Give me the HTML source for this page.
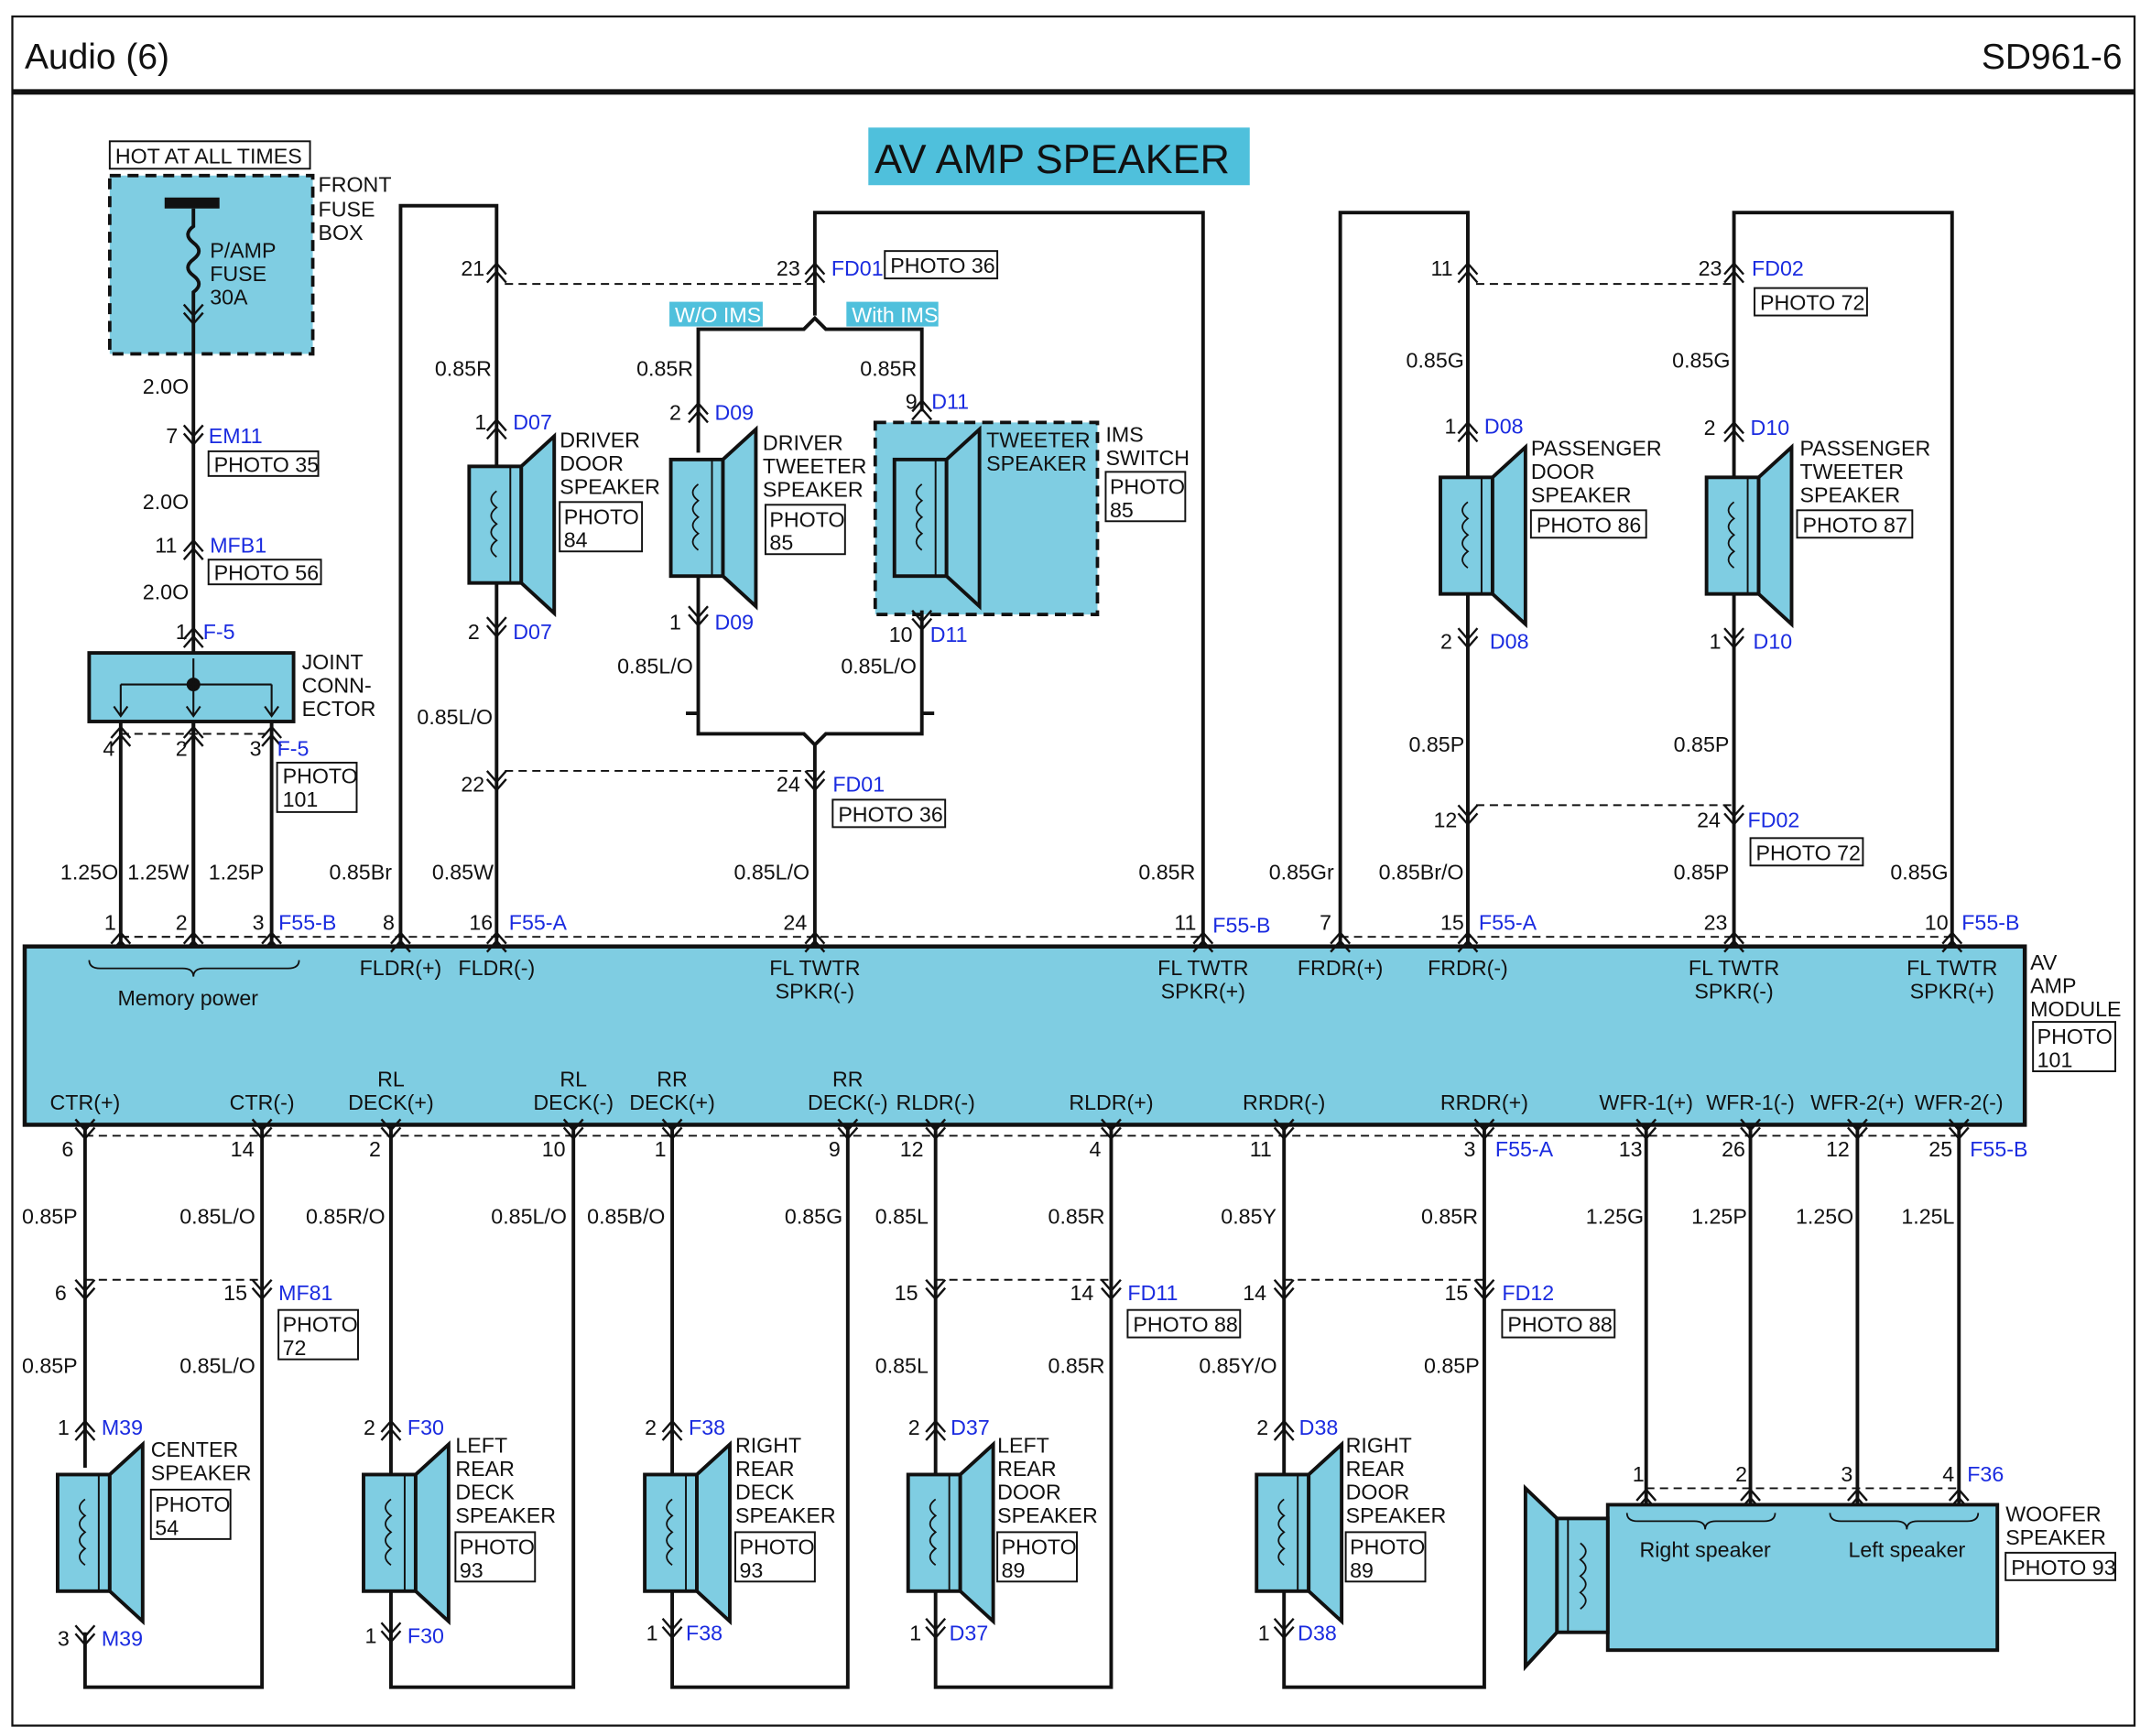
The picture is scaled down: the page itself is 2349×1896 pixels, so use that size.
<!DOCTYPE html>
<html><head><meta charset="utf-8"><style>
html,body{margin:0;padding:0;background:#fff}
svg{display:block}
text{font-family:"Liberation Sans",sans-serif;font-size:15.5px;fill:#111}
.b{fill:#1a2be0}
.m{text-anchor:middle}
.w{stroke:#111;stroke-width:2.6;fill:none}
.d{stroke:#111;stroke-width:1.3;fill:none;stroke-dasharray:6 4}
.bx{fill:#fff;stroke:#111;stroke-width:1.3}
</style></head><body>
<svg width="2349" height="1896" viewBox="0 0 1568 1265.6" preserveAspectRatio="none">
<defs>
<g id="cu"><path d="M-7,4 L0,-4 L7,4 M-7,10 L0,2 L7,10" stroke="#111" stroke-width="1.6" fill="none"/></g>
<g id="cd"><path d="M-7,-4 L0,4 L7,-4 M-7,-10 L0,-2 L7,-10" stroke="#111" stroke-width="1.6" fill="none"/></g>
<g id="spk">
<rect x="0" y="0" width="38" height="85" fill="#7fcde2" stroke="#111" stroke-width="2.6"/>
<line x1="30" y1="0" x2="30" y2="85" stroke="#111" stroke-width="1.3"/>
<path d="M20,18 q-8,6 0,12 q-8,6 0,12 q-8,6 0,12 q-8,6 0,12" stroke="#111" stroke-width="1.2" fill="none"/>
<polygon points="38,0 62,-22 62,107 38,85" fill="#7fcde2" stroke="#111" stroke-width="2.6"/>
</g>
</defs>
<rect x="9" y="12" width="1547" height="1246" fill="none" stroke="#111" stroke-width="1.5"/>
<line x1="9" y1="67" x2="1556" y2="67" stroke="#111" stroke-width="4"/>
<text x="18" y="50" style="font-size:26px">Audio (6)</text>
<text x="1547" y="50" style="font-size:26px;text-anchor:end">SD961-6</text>
<rect x="633" y="93" width="278" height="42" fill="#4fc0dc"/>
<text x="767" y="126" class="m" style="font-size:30px">AV AMP SPEAKER</text>

<!-- fuse -->
<rect x="80" y="103" width="146" height="20" class="bx"/><text x="84" y="119">HOT AT ALL TIMES</text>
<rect x="80" y="128" width="148" height="130" fill="#7fcde2" stroke="#111" stroke-width="2.5" stroke-dasharray="8 5"/>
<rect x="120" y="144" width="40" height="8" fill="#111"/>
<path d="M141,152 V165 q-8,6 0,12 q8,6 0,12 q-8,6 0,12 q8,6 0,12 V690" class="w"/>
<text x="153" y="188">P/AMP</text><text x="153" y="205">FUSE</text><text x="153" y="222">30A</text>
<text x="232" y="140">FRONT</text><text x="232" y="158">FUSE</text><text x="232" y="175">BOX</text>
<use href="#cd" x="141" y="232"/>
<text x="104" y="287">2.0O</text>
<use href="#cd" x="141" y="320"/><text x="121" y="323">7</text><text x="152" y="323" class="b">EM11</text>
<rect x="152" y="329" width="80" height="18" class="bx"/><text x="156" y="344">PHOTO 35</text>
<text x="104" y="371">2.0O</text>
<use href="#cu" x="141" y="398"/><text x="113" y="403">11</text><text x="153" y="403" class="b">MFB1</text>
<rect x="152" y="408" width="82" height="18" class="bx"/><text x="156" y="423">PHOTO 56</text>
<text x="104" y="437">2.0O</text>
<use href="#cu" x="141" y="462"/><text x="128" y="466">1</text><text x="148" y="466" class="b">F-5</text>
<rect x="65" y="476" width="149" height="50" fill="#7fcde2" stroke="#111" stroke-width="2.6"/>
<circle cx="141" cy="499" r="5" fill="#111"/>
<path d="M88,499 H198 M88,499 V522 M198,499 V522 M141,480 V522 M83,515 L88,522 L93,515 M136,515 L141,522 L146,515 M193,515 L198,522 L203,515" stroke="#111" stroke-width="1.4" fill="none"/>
<text x="220" y="488">JOINT</text><text x="220" y="505">CONN-</text><text x="220" y="522">ECTOR</text>
<path d="M88,526 V690 M141,526 V690 M198,526 V690" class="w"/>
<use href="#cu" x="88" y="534"/><use href="#cu" x="141" y="534"/><use href="#cu" x="198" y="534"/>
<line x1="88" y1="535" x2="198" y2="535" class="d"/>
<text x="75" y="551">4</text><text x="128" y="551">2</text><text x="182" y="551">3</text><text x="202" y="551" class="b">F-5</text>
<rect x="202" y="556" width="58" height="36" class="bx"/><text x="206" y="571">PHOTO</text><text x="206" y="588">101</text>
<text x="44" y="641">1.25O</text><text x="93" y="641">1.25W</text><text x="152" y="641">1.25P</text>
<use href="#cu" x="88" y="684"/><use href="#cu" x="141" y="684"/><use href="#cu" x="198" y="684"/>
<line x1="88" y1="683" x2="198" y2="683" class="d"/>
<text x="76" y="678">1</text><text x="128" y="678">2</text><text x="184" y="678">3</text><text x="203" y="678" class="b">F55-B</text>

<!-- module -->
<rect x="18" y="690" width="1458" height="130" fill="#7fcde2" stroke="#111" stroke-width="3"/>
<path d="M65,700 q0,6 8,6 H133 q8,0 8,6 q0,-6 8,-6 H210 q8,0 8,-6" stroke="#111" stroke-width="1.2" fill="none"/>
<text x="137" y="733" class="m">Memory power</text>
<g class="m">
<text x="292" y="711" class="m">FLDR(+)</text><text x="362" y="711" class="m">FLDR(-)</text>
<text x="594" y="711" class="m">FL TWTR</text><text x="594" y="728" class="m">SPKR(-)</text>
<text x="877" y="711" class="m">FL TWTR</text><text x="877" y="728" class="m">SPKR(+)</text>
<text x="977" y="711" class="m">FRDR(+)</text><text x="1070" y="711" class="m">FRDR(-)</text>
<text x="1264" y="711" class="m">FL TWTR</text><text x="1264" y="728" class="m">SPKR(-)</text>
<text x="1423" y="711" class="m">FL TWTR</text><text x="1423" y="728" class="m">SPKR(+)</text>
<text x="62" y="809" class="m">CTR(+)</text><text x="191" y="809" class="m">CTR(-)</text>
<text x="285" y="792" class="m">RL</text><text x="285" y="809" class="m">DECK(+)</text>
<text x="418" y="792" class="m">RL</text><text x="418" y="809" class="m">DECK(-)</text>
<text x="490" y="792" class="m">RR</text><text x="490" y="809" class="m">DECK(+)</text>
<text x="618" y="792" class="m">RR</text><text x="618" y="809" class="m">DECK(-)</text>
<text x="682" y="809" class="m">RLDR(-)</text><text x="810" y="809" class="m">RLDR(+)</text>
<text x="936" y="809" class="m">RRDR(-)</text><text x="1082" y="809" class="m">RRDR(+)</text>
<text x="1200" y="809" class="m">WFR-1(+)</text><text x="1276" y="809" class="m">WFR-1(-)</text>
<text x="1354" y="809" class="m">WFR-2(+)</text><text x="1428" y="809" class="m">WFR-2(-)</text>
</g>
<text x="1480" y="707">AV</text><text x="1480" y="724">AMP</text><text x="1480" y="741">MODULE</text>
<rect x="1482" y="745" width="60" height="36" class="bx"/><text x="1485" y="761">PHOTO</text><text x="1485" y="778">101</text>

<!-- FLDR -->
<path d="M292,690 V150 H362 V690" class="w"/>
<use href="#cu" x="362" y="196"/><text x="336" y="201">21</text>
<line x1="368" y1="207" x2="594" y2="207" class="d"/>
<text x="317" y="274">0.85R</text>
<use href="#cu" x="362" y="310"/><text x="346" y="313">1</text><text x="374" y="313" class="b">D07</text>
<use href="#spk" x="342" y="340"/>
<use href="#cd" x="362" y="460"/><text x="341" y="466">2</text><text x="374" y="466" class="b">D07</text>
<text x="304" y="528">0.85L/O</text>
<use href="#cd" x="362" y="572"/><text x="336" y="577">22</text>
<line x1="368" y1="562" x2="594" y2="562" class="d"/>
<text x="240" y="641">0.85Br</text><text x="315" y="641">0.85W</text>
<use href="#cu" x="292" y="684"/><use href="#cu" x="362" y="684"/>
<line x1="88" y1="683" x2="877" y2="683" class="d"/>
<text x="279" y="678">8</text><text x="342" y="678">16</text><text x="371" y="678" class="b">F55-A</text>

<!-- FL TWTR -->
<path d="M594,230 V155 H877 V690" class="w"/>
<use href="#cu" x="594" y="196"/><text x="566" y="201">23</text><text x="606" y="201" class="b">FD01</text>
<rect x="645" y="183" width="82" height="20" class="bx"/><text x="649" y="199">PHOTO 36</text>
<path d="M509,330 V240 H586 L594,232 L602,240 H672 V300" class="w"/>
<rect x="488" y="220" width="68" height="18" fill="#4fc0dc"/><text x="492" y="235" style="fill:#fff">W/O IMS</text>
<rect x="617" y="220" width="67" height="18" fill="#4fc0dc"/><text x="621" y="235" style="fill:#fff">With IMS</text>
<text x="464" y="274">0.85R</text><text x="627" y="274">0.85R</text>
<use href="#cu" x="509" y="298"/><text x="488" y="306">2</text><text x="521" y="306" class="b">D09</text>
<use href="#spk" x="489" y="335"/>
<use href="#cd" x="509" y="452"/><text x="488" y="459">1</text><text x="521" y="459" class="b">D09</text>
<rect x="638" y="308" width="162" height="140" fill="#7fcde2" stroke="#111" stroke-width="2.5" stroke-dasharray="8 5"/>
<use href="#cu" x="672" y="296"/><text x="660" y="298">9</text><text x="679" y="298" class="b">D11</text>
<use href="#spk" x="652" y="335"/>
<use href="#cd" x="672" y="455"/><text x="648" y="468">10</text><text x="678" y="468" class="b">D11</text>
<text x="719" y="326">TWEETER</text><text x="719" y="343">SPEAKER</text>
<text x="806" y="322">IMS</text><text x="806" y="339">SWITCH</text>
<rect x="806" y="344" width="58" height="36" class="bx"/><text x="809" y="360">PHOTO</text><text x="809" y="377">85</text>
<text x="556" y="328">DRIVER</text><text x="556" y="345">TWEETER</text><text x="556" y="362">SPEAKER</text>
<rect x="558" y="368" width="58" height="36" class="bx"/><text x="561" y="384">PHOTO</text><text x="561" y="401">85</text>
<text x="408" y="326">DRIVER</text><text x="408" y="343">DOOR</text><text x="408" y="360">SPEAKER</text>
<rect x="408" y="366" width="60" height="36" class="bx"/><text x="411" y="382">PHOTO</text><text x="411" y="399">84</text>
<text x="450" y="491">0.85L/O</text><text x="613" y="491">0.85L/O</text>
<path d="M509,420 V535 H586 L594,543 L602,535 H672 V445 M594,543 V690 M509,520 L500,520 M672,520 L681,520" class="w"/>
<use href="#cd" x="594" y="572"/><text x="566" y="577">24</text><text x="607" y="577" class="b">FD01</text>
<rect x="607" y="583" width="82" height="20" class="bx"/><text x="611" y="599">PHOTO 36</text>
<text x="535" y="641">0.85L/O</text><text x="830" y="641">0.85R</text>
<use href="#cu" x="594" y="684"/><use href="#cu" x="877" y="684"/>
<text x="571" y="678">24</text><text x="856" y="678">11</text><text x="884" y="680" class="b">F55-B</text>

<!-- FRDR -->
<path d="M977,690 V155 H1070 V690" class="w"/>
<use href="#cu" x="1070" y="196"/><text x="1043" y="201">11</text>
<line x1="1076" y1="207" x2="1264" y2="207" class="d"/>
<text x="1025" y="268">0.85G</text>
<use href="#cu" x="1070" y="312"/><text x="1053" y="316">1</text><text x="1082" y="316" class="b">D08</text>
<use href="#spk" x="1050" y="348"/>
<use href="#cd" x="1070" y="468"/><text x="1050" y="473">2</text><text x="1086" y="473" class="b">D08</text>
<text x="1116" y="332">PASSENGER</text><text x="1116" y="349">DOOR</text><text x="1116" y="366">SPEAKER</text>
<rect x="1116" y="372" width="84" height="20" class="bx"/><text x="1120" y="388">PHOTO 86</text>
<text x="1027" y="548">0.85P</text>
<use href="#cd" x="1070" y="597"/><text x="1045" y="603">12</text>
<line x1="1076" y1="587" x2="1264" y2="587" class="d"/>
<text x="925" y="641">0.85Gr</text><text x="1005" y="641">0.85Br/O</text>
<use href="#cu" x="977" y="684"/><use href="#cu" x="1070" y="684"/>
<line x1="977" y1="683" x2="1423" y2="683" class="d"/>
<text x="962" y="678">7</text><text x="1050" y="678">15</text><text x="1078" y="678" class="b">F55-A</text>

<path d="M1264,690 V155 H1423 V690" class="w"/>
<use href="#cu" x="1264" y="196"/><text x="1238" y="201">23</text><text x="1277" y="201" class="b">FD02</text>
<rect x="1279" y="210" width="82" height="20" class="bx"/><text x="1283" y="226">PHOTO 72</text>
<text x="1219" y="268">0.85G</text>
<use href="#cu" x="1264" y="312"/><text x="1242" y="317">2</text><text x="1276" y="317" class="b">D10</text>
<use href="#spk" x="1244" y="348"/>
<use href="#cd" x="1264" y="468"/><text x="1246" y="473">1</text><text x="1278" y="473" class="b">D10</text>
<text x="1312" y="332">PASSENGER</text><text x="1312" y="349">TWEETER</text><text x="1312" y="366">SPEAKER</text>
<rect x="1310" y="372" width="84" height="20" class="bx"/><text x="1314" y="388">PHOTO 87</text>
<text x="1220" y="548">0.85P</text>
<use href="#cd" x="1264" y="597"/><text x="1237" y="603">24</text><text x="1274" y="603" class="b">FD02</text>
<rect x="1276" y="611" width="82" height="20" class="bx"/><text x="1280" y="627">PHOTO 72</text>
<text x="1220" y="641">0.85P</text><text x="1378" y="641">0.85G</text>
<use href="#cu" x="1264" y="684"/><use href="#cu" x="1423" y="684"/>
<text x="1242" y="678">23</text><text x="1403" y="678">10</text><text x="1430" y="678" class="b">F55-B</text>

<!-- bottom -->
<line x1="62" y1="828" x2="1428" y2="828" class="d"/>
<g>
<use href="#cd" x="62" y="826"/><use href="#cd" x="191" y="826"/><use href="#cd" x="285" y="826"/><use href="#cd" x="418" y="826"/><use href="#cd" x="490" y="826"/><use href="#cd" x="618" y="826"/><use href="#cd" x="682" y="826"/><use href="#cd" x="810" y="826"/><use href="#cd" x="936" y="826"/><use href="#cd" x="1082" y="826"/><use href="#cd" x="1200" y="826"/><use href="#cd" x="1276" y="826"/><use href="#cd" x="1354" y="826"/><use href="#cd" x="1428" y="826"/>
</g>
<text x="45" y="843">6</text><text x="168" y="843">14</text><text x="269" y="843">2</text><text x="395" y="843">10</text><text x="477" y="843">1</text><text x="604" y="843">9</text><text x="656" y="843">12</text><text x="794" y="843">4</text><text x="911" y="843">11</text><text x="1067" y="843">3</text><text x="1090" y="843" class="b">F55-A</text>
<text x="1180" y="843">13</text><text x="1255" y="843">26</text><text x="1331" y="843">12</text><text x="1406" y="843">25</text><text x="1436" y="843" class="b">F55-B</text>
<text x="16" y="892">0.85P</text><text x="131" y="892">0.85L/O</text><text x="223" y="892">0.85R/O</text><text x="358" y="892">0.85L/O</text><text x="428" y="892">0.85B/O</text><text x="572" y="892">0.85G</text><text x="638" y="892">0.85L</text><text x="764" y="892">0.85R</text><text x="890" y="892">0.85Y</text><text x="1036" y="892">0.85R</text><text x="1156" y="892">1.25G</text><text x="1233" y="892">1.25P</text><text x="1309" y="892">1.25O</text><text x="1386" y="892">1.25L</text>

<!-- center -->
<path d="M62,820 V1230 H191 V820" class="w"/>
<use href="#cd" x="62" y="943"/><use href="#cd" x="191" y="943"/>
<line x1="62" y1="933" x2="191" y2="933" class="d"/>
<text x="40" y="948">6</text><text x="163" y="948">15</text><text x="203" y="948" class="b">MF81</text>
<rect x="203" y="955" width="58" height="36" class="bx"/><text x="206" y="971">PHOTO</text><text x="206" y="988">72</text>
<text x="16" y="1001">0.85P</text><text x="131" y="1001">0.85L/O</text>
<use href="#cu" x="62" y="1040"/><text x="42" y="1046">1</text><text x="74" y="1046" class="b">M39</text>
<rect x="40" y="1070" width="40" height="120" fill="#fff"/>
<use href="#spk" x="42" y="1075"/>
<use href="#cd" x="62" y="1195"/><text x="42" y="1200">3</text><text x="74" y="1200" class="b">M39</text>
<text x="110" y="1062">CENTER</text><text x="110" y="1079">SPEAKER</text>
<rect x="110" y="1086" width="58" height="36" class="bx"/><text x="113" y="1102">PHOTO</text><text x="113" y="1119">54</text>

<!-- rear decks -->
<path d="M285,820 V1230 H418 V820" class="w"/>
<use href="#cu" x="285" y="1040"/><text x="265" y="1046">2</text><text x="297" y="1046" class="b">F30</text>
<use href="#spk" x="265" y="1075"/>
<use href="#cd" x="285" y="1193"/><text x="266" y="1198">1</text><text x="297" y="1198" class="b">F30</text>
<text x="332" y="1059">LEFT</text><text x="332" y="1076">REAR</text><text x="332" y="1093">DECK</text><text x="332" y="1110">SPEAKER</text>
<rect x="332" y="1117" width="58" height="36" class="bx"/><text x="335" y="1133">PHOTO</text><text x="335" y="1150">93</text>
<path d="M490,820 V1230 H618 V820" class="w"/>
<use href="#cu" x="490" y="1040"/><text x="470" y="1046">2</text><text x="502" y="1046" class="b">F38</text>
<use href="#spk" x="470" y="1075"/>
<use href="#cd" x="490" y="1190"/><text x="471" y="1196">1</text><text x="500" y="1196" class="b">F38</text>
<text x="536" y="1059">RIGHT</text><text x="536" y="1076">REAR</text><text x="536" y="1093">DECK</text><text x="536" y="1110">SPEAKER</text>
<rect x="536" y="1117" width="58" height="36" class="bx"/><text x="539" y="1133">PHOTO</text><text x="539" y="1150">93</text>

<!-- rear doors -->
<path d="M682,820 V1230 H810 V820" class="w"/>
<use href="#cd" x="682" y="943"/><use href="#cd" x="810" y="943"/>
<line x1="682" y1="933" x2="810" y2="933" class="d"/>
<text x="652" y="948">15</text><text x="780" y="948">14</text><text x="822" y="948" class="b">FD11</text>
<rect x="822" y="955" width="82" height="20" class="bx"/><text x="826" y="971">PHOTO 88</text>
<text x="638" y="1001">0.85L</text><text x="764" y="1001">0.85R</text>
<use href="#cu" x="682" y="1040"/><text x="662" y="1046">2</text><text x="693" y="1046" class="b">D37</text>
<use href="#spk" x="662" y="1075"/>
<use href="#cd" x="682" y="1190"/><text x="663" y="1196">1</text><text x="692" y="1196" class="b">D37</text>
<text x="727" y="1059">LEFT</text><text x="727" y="1076">REAR</text><text x="727" y="1093">DOOR</text><text x="727" y="1110">SPEAKER</text>
<rect x="727" y="1117" width="58" height="36" class="bx"/><text x="730" y="1133">PHOTO</text><text x="730" y="1150">89</text>
<path d="M936,820 V1230 H1082 V820" class="w"/>
<use href="#cd" x="936" y="943"/><use href="#cd" x="1082" y="943"/>
<line x1="936" y1="933" x2="1082" y2="933" class="d"/>
<text x="906" y="948">14</text><text x="1053" y="948">15</text><text x="1095" y="948" class="b">FD12</text>
<rect x="1095" y="955" width="82" height="20" class="bx"/><text x="1099" y="971">PHOTO 88</text>
<text x="874" y="1001">0.85Y/O</text><text x="1038" y="1001">0.85P</text>
<use href="#cu" x="936" y="1040"/><text x="916" y="1046">2</text><text x="947" y="1046" class="b">D38</text>
<use href="#spk" x="916" y="1075"/>
<use href="#cd" x="936" y="1190"/><text x="917" y="1196">1</text><text x="946" y="1196" class="b">D38</text>
<text x="981" y="1059">RIGHT</text><text x="981" y="1076">REAR</text><text x="981" y="1093">DOOR</text><text x="981" y="1110">SPEAKER</text>
<rect x="981" y="1117" width="58" height="36" class="bx"/><text x="984" y="1133">PHOTO</text><text x="984" y="1150">89</text>

<!-- woofer -->
<path d="M1200,820 V1097 M1276,820 V1097 M1354,820 V1097 M1428,820 V1097" class="w"/>
<use href="#cu" x="1200" y="1090"/><use href="#cu" x="1276" y="1090"/><use href="#cu" x="1354" y="1090"/><use href="#cu" x="1428" y="1090"/>
<line x1="1200" y1="1085" x2="1428" y2="1085" class="d"/>
<text x="1190" y="1080">1</text><text x="1265" y="1080">2</text><text x="1342" y="1080">3</text><text x="1416" y="1080">4</text><text x="1434" y="1080" class="b">F36</text>
<rect x="1172" y="1097" width="284" height="106" fill="#7fcde2" stroke="#111" stroke-width="2.6"/>
<polygon points="1135,1107 1112,1085 1112,1215 1135,1190" fill="#7fcde2" stroke="#111" stroke-width="2.6"/>
<rect x="1135" y="1107" width="37" height="83" fill="#7fcde2" stroke="#111" stroke-width="2.6"/>
<line x1="1143" y1="1107" x2="1143" y2="1190" stroke="#111" stroke-width="1.3"/>
<path d="M1152,1125 q8,6 0,12 q8,6 0,12 q8,6 0,12 q8,6 0,12" stroke="#111" stroke-width="1.2" fill="none"/>
<path d="M1186,1103 q0,6 8,6 H1235 q8,0 8,6 q0,-6 8,-6 H1286 q8,0 8,-6 M1334,1103 q0,6 8,6 H1382 q8,0 8,6 q0,-6 8,-6 H1434 q8,0 8,-6" stroke="#111" stroke-width="1.2" fill="none"/>
<text x="1243" y="1135" class="m">Right speaker</text><text x="1390" y="1135" class="m">Left speaker</text>
<text x="1462" y="1109">WOOFER</text><text x="1462" y="1126">SPEAKER</text>
<rect x="1462" y="1132" width="80" height="20" class="bx"/><text x="1466" y="1148">PHOTO 93</text>
</svg>
</body></html>
